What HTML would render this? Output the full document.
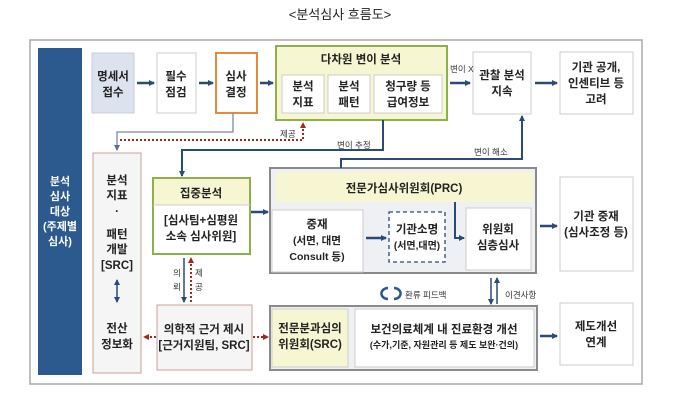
<!DOCTYPE html>
<html><head><meta charset="utf-8"><style>
html,body{margin:0;padding:0;background:#fff;}
svg{display:block;font-family:"Liberation Sans","Noto Sans CJK KR",sans-serif;}
</style></head><body>
<svg width="680" height="408" viewBox="0 0 680 408" xmlns="http://www.w3.org/2000/svg">
<defs>
<marker id="ab" markerWidth="6" markerHeight="6" refX="5" refY="3" orient="auto" markerUnits="userSpaceOnUse"><path d="M0,0 L6,3 L0,6 z" fill="#2a4a78"/></marker>
<marker id="ag" markerWidth="6" markerHeight="6" refX="5" refY="3" orient="auto" markerUnits="userSpaceOnUse"><path d="M0,0 L6,3 L0,6 z" fill="#5a6e8a"/></marker>
<marker id="ar" markerWidth="6" markerHeight="6" refX="5" refY="3" orient="auto" markerUnits="userSpaceOnUse"><path d="M0,0 L6,3 L0,6 z" fill="#a0281e"/></marker>
</defs>
<text x="340" y="19" text-anchor="middle" font-size="13" fill="#222">&lt;분석심사 흐름도&gt;</text>
<rect x="30" y="40" width="612" height="344" fill="#fff" stroke="#aaa" stroke-width="1.5"/>
<rect x="38" y="48" width="44" height="327" fill="#2d5a8e"/>
<g fill="#fff" font-size="11" text-anchor="middle" font-weight="bold">
<text x="60" y="185">분석</text><text x="60" y="200">심사</text><text x="60" y="215">대상</text><text x="60" y="230">(주제별</text><text x="60" y="245">심사)</text></g>

<g font-size="11.5" text-anchor="middle" fill="#222" font-weight="bold">
<rect x="92" y="53" width="42" height="60" fill="#dde3ee" stroke="#c8cfdc"/>
<text x="113" y="80">명세서</text><text x="113" y="96">접수</text>
<rect x="157" y="53" width="39" height="60" fill="#fff" stroke="#ccc"/>
<text x="176" y="80">필수</text><text x="176" y="96">점검</text>
<rect x="216" y="53" width="41" height="60" fill="#fff" stroke="#e8883a" stroke-width="2"/>
<text x="236" y="80">심사</text><text x="236" y="96">결정</text>
<rect x="276" y="46" width="171" height="74" fill="#f6f7d2" stroke="#8db04a" stroke-width="2"/>
<text x="361" y="63">다차원 변이 분석</text>
<rect x="282" y="75" width="42" height="38" fill="#fff" stroke="#ccc"/>
<text x="303" y="90">분석</text><text x="303" y="106">지표</text>
<rect x="328" y="75" width="42" height="38" fill="#fff" stroke="#ccc"/>
<text x="349" y="90">분석</text><text x="349" y="106">패턴</text>
<rect x="374" y="75" width="68" height="38" fill="#fff" stroke="#ccc"/>
<text x="408" y="90">청구량 등</text><text x="408" y="106">급여정보</text>
<rect x="473" y="52" width="58" height="62" fill="#fff" stroke="#ccc"/>
<text x="502" y="79">관찰 분석</text><text x="502" y="95">지속</text>
<rect x="560" y="52" width="73" height="62" fill="#fff" stroke="#ccc"/>
<text x="596" y="71">기관 공개,</text><text x="596" y="87">인센티브 등</text><text x="596" y="103">고려</text>

<rect x="93" y="153" width="48" height="220" fill="#f5f5f5" stroke="#c9a09a"/>
<text x="117" y="184">분석</text><text x="117" y="199">지표</text><text x="117" y="215">·</text><text x="117" y="238">패턴</text><text x="117" y="253">개발</text><text x="117" y="269">[SRC]</text>
<text x="117" y="332">전산</text><text x="117" y="348">정보화</text>

<rect x="153" y="178" width="97" height="76" fill="#fff" stroke="#8db04a" stroke-width="2"/>
<rect x="154" y="179" width="95" height="26" fill="#f6f7d2"/>
<line x1="153" y1="205" x2="250" y2="205" stroke="#ccc"/>
<text x="201" y="197">집중분석</text>
<text x="201" y="224">[심사팀+심평원</text><text x="201" y="240">소속 심사위원]</text>

<rect x="270" y="168" width="266" height="105" fill="#eef0f3" stroke="#8a8a8a" stroke-width="2"/>
<rect x="276" y="172" width="257" height="30" fill="#f6f7d2"/>
<text x="404" y="192">전문가심사위원회(PRC)</text>
<rect x="272" y="210" width="91" height="62" fill="#fff" stroke="#ccc"/>
<text x="317" y="228">중재</text><text x="317" y="244" font-size="10.5">(서면, 대면</text><text x="317" y="260" font-size="10.5">Consult 등)</text>
<rect x="389" y="212" width="56" height="50" fill="#fff" stroke="#2a4a78" stroke-dasharray="4,3" stroke-width="1.3"/>
<text x="417" y="233">기관소명</text><text x="417" y="249" font-size="10">(서면,대면)</text>
<rect x="466" y="208" width="65" height="62" fill="#fff" stroke="#ccc"/>
<text x="498" y="233">위원회</text><text x="498" y="249">심층심사</text>
<rect x="560" y="177" width="73" height="94" fill="#fff" stroke="#ccc"/>
<text x="596" y="220">기관 중재</text><text x="596" y="236">(심사조정 등)</text>

<rect x="157" y="305" width="95" height="65" fill="#f5f5f5" stroke="#c9a09a"/>
<text x="204" y="333">의학적 근거 제시</text><text x="204" y="349">[근거지원팀, SRC]</text>
<rect x="270" y="306" width="267" height="64" fill="#eef0f3" stroke="#8a8a8a" stroke-width="2"/>
<rect x="272" y="309" width="76" height="58" fill="#f6f7d2" stroke="#ccc"/>
<text x="310" y="332">전문분과심의</text><text x="310" y="348">위원회(SRC)</text>
<rect x="355" y="309" width="179" height="58" fill="#fff" stroke="#ccc"/>
<text x="444" y="333">보건의료체계 내 진료환경 개선</text>
<text x="444" y="348" font-size="9">(수가,기준, 자원관리 등 제도 보완·건의)</text>
<rect x="560" y="303" width="73" height="62" fill="#fff" stroke="#ccc"/>
<text x="596" y="330">제도개선</text><text x="596" y="346">연계</text>
</g>

<g stroke="#2a4a78" stroke-width="2.5" fill="none" marker-end="url(#ab)">
<line x1="137" y1="83" x2="154" y2="83"/>
<line x1="199" y1="83" x2="213" y2="83"/>
<line x1="260" y1="83" x2="273" y2="83"/>
<line x1="450" y1="83" x2="470" y2="83"/>
<line x1="535" y1="83" x2="557" y2="83"/>
<line x1="251" y1="212" x2="268" y2="212"/>
<line x1="366" y1="238" x2="386" y2="238"/>
<line x1="540" y1="226" x2="557" y2="226"/>
<line x1="540" y1="336" x2="557" y2="336"/>
</g>
<g stroke="#2a4a78" stroke-width="2" fill="none">
<polyline points="383,120 383,150 182,150 182,176" marker-end="url(#ab)"/>
<polyline points="341,168 341,159 522,159 522,116" marker-end="url(#ab)"/>
<polyline points="455,202 455,238 464,238" marker-end="url(#ab)"/>
<line x1="184" y1="258" x2="184" y2="302" marker-end="url(#ab)" stroke-width="1.5"/>
<line x1="491" y1="278" x2="491" y2="304" marker-end="url(#ab)" stroke-width="1.5"/>
<line x1="497" y1="304" x2="497" y2="278" marker-end="url(#ab)" stroke-width="1.5"/>
<line x1="117" y1="290" x2="117" y2="280" marker-end="url(#ab)" stroke-width="1.5"/>
<line x1="117" y1="290" x2="117" y2="302" marker-end="url(#ab)" stroke-width="1.5"/>
</g>
<polyline points="233,113 233,132 117,132 117,150" fill="none" stroke="#7a8aa0" stroke-width="1.3" marker-end="url(#ag)"/>
<g stroke="#a0281e" stroke-width="2" fill="none" stroke-dasharray="2,2">
<polyline points="120,140 303,140 303,123" marker-end="url(#ar)"/>
<line x1="191" y1="302" x2="191" y2="258" marker-end="url(#ar)"/>
<line x1="156" y1="337" x2="144" y2="337" marker-end="url(#ar)"/>
<line x1="253" y1="337" x2="268" y2="337" marker-end="url(#ar)"/>
</g>
<g font-size="8.5" fill="#333">
<text x="280" y="137">제공</text>
<text x="450" y="72">변이 X</text>
<text x="337" y="148">변이 추정</text>
<text x="474" y="155">변이 해소</text>
<text x="173" y="276">의</text><text x="173" y="290">뢰</text>
<text x="195" y="276">제</text><text x="195" y="290">공</text>
<text x="405" y="298">환류 피드백</text>
<text x="505" y="298">이견사항</text>
</g>
<path d="M388,288 a6,5 0 1,0 0,11 M394,288 a6,5 0 1,1 0,11" fill="none" stroke="#2d5a8e" stroke-width="2.5"/>
</svg>
</body></html>
